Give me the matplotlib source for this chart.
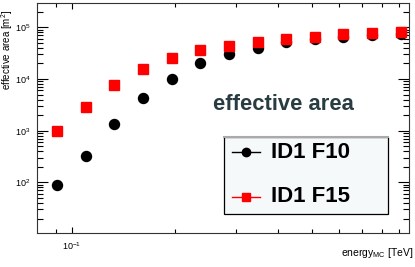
import matplotlib
matplotlib.use("Agg")
import matplotlib.pyplot as plt
import numpy as np
from matplotlib.patches import Rectangle
from matplotlib.lines import Line2D
from matplotlib.ticker import LogLocator, NullFormatter, FixedLocator, FixedFormatter

# values
energy = [0.0908, 0.110, 0.133, 0.161, 0.196, 0.237, 0.288,
          0.348, 0.422, 0.512, 0.618, 0.751, 0.912]
area_f10 = [89, 325, 1350, 4350, 10000, 20100, 30000,
            39300, 52000, 59500, 65000, 70000, 75000]
area_f15 = [1000, 2910, 7650, 15600, 25800, 36400, 44100,
            51300, 58600, 65800, 73300, 76600, 80000]
labels = ["ID1 F10", "ID1 F15"]

plt.rcParams['font.family'] = ['Liberation Sans', 'DejaVu Sans']
plt.rcParams['mathtext.fontset'] = 'custom'
plt.rcParams['mathtext.rm'] = 'Liberation Sans'
plt.rcParams['mathtext.it'] = 'Liberation Sans'

fig = plt.figure(figsize=(4.15, 2.67), dpi=100)
ax = fig.add_axes([37/415, 34/267, 372/415, 230/267])

ax.plot(energy, area_f10, 'o', color='black', markersize=7.2, zorder=3)
ax.plot(energy, area_f15, 's', color='#ff0000', markersize=7.2, zorder=4)

ax.set_xscale('log')
ax.set_yscale('log')
ax.set_xlim(0.0792, 0.96)
ax.set_ylim(10.5, 2.95e5)

# ticks, ROOT style: inside, on all sides
ax.yaxis.set_major_locator(LogLocator(base=10, numticks=10))
ax.yaxis.set_minor_locator(LogLocator(base=10, subs=np.arange(2, 10), numticks=20))
ax.yaxis.set_minor_formatter(NullFormatter())
ax.xaxis.set_major_locator(FixedLocator([0.1]))
ax.xaxis.set_major_formatter(FixedFormatter([r'$10^{-1}$']))
ax.xaxis.set_minor_locator(FixedLocator([0.09, 0.2, 0.3, 0.4, 0.5, 0.6, 0.7, 0.8, 0.9]))
ax.xaxis.set_minor_formatter(NullFormatter())
ax.tick_params(which='both', direction='in', top=True, right=True,
               width=0.8, color='black', labelsize=6.5)
ax.tick_params(axis='y', which='major', length=8, pad=5)
ax.tick_params(axis='y', which='minor', length=4)
ax.tick_params(axis='x', which='major', length=4.5, pad=5)
ax.tick_params(axis='x', which='minor', length=3)
for s in ax.spines.values():
    s.set_linewidth(0.8)
    s.set_color('#333333')

fig.text(7/415, 1 - 10/267, 'effective area [m$^{2}$]', rotation=90,
         ha='center', va='top', fontsize=7)
fig.text(413/415, 1 - 253/267, r'energy$_{\mathregular{MC}}$ [TeV]',
         ha='right', va='center', fontsize=7.5)

ax.text(0.473, 0.535, 'effective area', transform=ax.transAxes,
        fontsize=15.8, fontweight='bold', color='#283c41', ha='left', va='baseline')

# legend box
x0, x1 = (224-37)/372, (388-37)/372
y0, y1 = (233-214)/230, (233-137)/230
ax.add_patch(Rectangle((x0, y0), x1-x0, y1-y0, transform=ax.transAxes,
                       facecolor='#f5f9fa', edgecolor='black', linewidth=0.9, zorder=5))
ax.plot([x0, x1], [y1, y1], transform=ax.transAxes, color='#aaaaaa', lw=1.5, zorder=6)
rows = [(area_f10, 'o', 'black', (233-152)/230), (area_f15, 's', '#ff0000', (233-197)/230)]
for (vals, mk, col, yy), lab in zip(rows, labels):
    ax.add_line(Line2D([(232-37)/372, (260-37)/372], [yy, yy], transform=ax.transAxes,
                       color=col, lw=1, zorder=6))
    ax.add_line(Line2D([(246-37)/372], [yy], transform=ax.transAxes, marker=mk,
                       color=col, markersize=6, zorder=7))
    ax.text((271-37)/372, yy, lab, transform=ax.transAxes, fontsize=16,
            fontweight='bold', color='black', ha='left', va='center', zorder=7)

fig.savefig('out.png', dpi=100)
